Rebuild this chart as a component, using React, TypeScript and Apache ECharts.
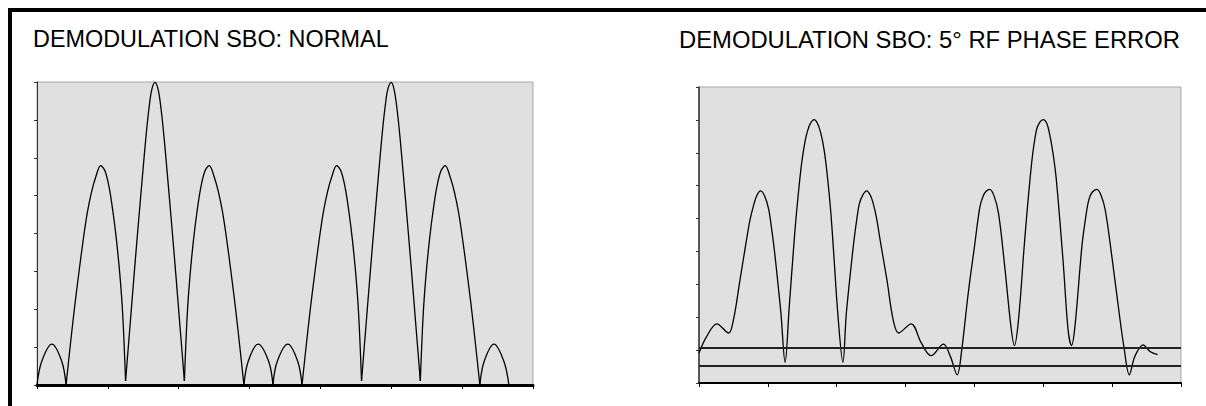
import React, { useEffect, useRef } from "react";
import * as echarts from "echarts";

const titleNormal = "DEMODULATION SBO: NORMAL";
const titlePhase = "DEMODULATION SBO: 5° RF PHASE ERROR";

// Left chart: normal demodulation, one array per lobe (x in tick units, y in tick units)
const normalLobeA = [[0, 0], [0.066, 0.62], [0.21, 1.08], [0.35, 0.62], [0.41, 0]];
const normalLobe1 = [[0.41, 0], [0.47, 1.05], [0.53, 2.05], [0.59, 2.95], [0.65, 3.8], [0.71, 4.55], [0.77, 5.1], [0.83, 5.5], [0.9, 5.79], [0.96, 5.65], [1.02, 5.2], [1.07, 4.6], [1.12, 3.85], [1.17, 2.9], [1.21, 1.85], [1.25, 0.11]];
const normalLobe2 = [[1.25, 0.11], [1.31, 1.5], [1.37, 2.9], [1.43, 4.25], [1.49, 5.55], [1.54, 6.6], [1.58, 7.3], [1.62, 7.8], [1.665, 7.99], [1.71, 7.8], [1.75, 7.3], [1.79, 6.6], [1.84, 5.55], [1.9, 4.25], [1.96, 2.9], [2.02, 1.5], [2.08, 0.11]];
const normalLobe3 = [[2.08, 0.11], [2.12, 1.85], [2.16, 2.9], [2.21, 3.85], [2.26, 4.6], [2.31, 5.2], [2.37, 5.65], [2.43, 5.79], [2.5, 5.5], [2.56, 5.1], [2.62, 4.55], [2.68, 3.8], [2.74, 2.95], [2.8, 2.05], [2.86, 1.05], [2.92, 0]];
const normalLobeB = [[2.92, 0], [2.98, 0.62], [3.12, 1.08], [3.27, 0.62], [3.33, 0]];
const normalLobeC = [[3.33, 0], [3.39, 0.62], [3.54, 1.08], [3.68, 0.62], [3.74, 0]];
const normalLobe4 = [[3.74, 0], [3.8, 1.05], [3.86, 2.05], [3.92, 2.95], [3.98, 3.8], [4.04, 4.55], [4.1, 5.1], [4.16, 5.5], [4.23, 5.79], [4.29, 5.65], [4.35, 5.2], [4.4, 4.6], [4.45, 3.85], [4.5, 2.9], [4.54, 1.85], [4.58, 0.11]];
const normalLobe5 = [[4.58, 0.11], [4.64, 1.5], [4.7, 2.9], [4.76, 4.25], [4.82, 5.55], [4.87, 6.6], [4.91, 7.3], [4.95, 7.8], [5.0, 7.99], [5.04, 7.8], [5.08, 7.3], [5.12, 6.6], [5.17, 5.55], [5.23, 4.25], [5.29, 2.9], [5.35, 1.5], [5.41, 0.11]];
const normalLobe6 = [[5.41, 0.11], [5.45, 1.85], [5.49, 2.9], [5.54, 3.85], [5.59, 4.6], [5.64, 5.2], [5.7, 5.65], [5.76, 5.79], [5.83, 5.5], [5.89, 5.1], [5.95, 4.55], [6.01, 3.8], [6.07, 2.95], [6.13, 2.05], [6.19, 1.05], [6.25, 0]];
const normalLobeD = [[6.25, 0], [6.31, 0.62], [6.45, 1.08], [6.59, 0.62], [6.66, 0]];
const normalLobes = [normalLobeA, normalLobe1, normalLobe2, normalLobe3, normalLobeB, normalLobeC, normalLobe4, normalLobe5, normalLobe6, normalLobeD];

// Right chart: 5° RF phase error
const phaseErrorLeft = [
  [0, 0.91], [0.11, 1.41], [0.26, 1.8], [0.43, 1.52], [0.5, 1.92], [0.595, 3.13], [0.69, 4.35], [0.74, 4.95],
  [0.79, 5.38], [0.84, 5.7], [0.895, 5.84], [0.95, 5.7], [1.01, 5.3], [1.06, 4.6], [1.1, 3.94], [1.15, 2.95],
  [1.19, 2.12], [1.25, 0.63], [1.31, 2.3], [1.39, 4.55], [1.44, 5.7], [1.49, 6.67], [1.54, 7.35], [1.58, 7.69],
  [1.62, 7.9], [1.67, 8.01], [1.72, 7.9], [1.77, 7.59], [1.82, 7.05], [1.86, 6.37], [1.91, 5.3], [1.95, 4.14],
  [2.02, 2.0], [2.09, 0.63], [2.14, 2.12], [2.24, 4.14], [2.29, 4.95], [2.33, 5.46], [2.38, 5.72], [2.435, 5.84],
  [2.49, 5.7], [2.53, 5.46], [2.58, 5.0], [2.63, 4.35], [2.73, 3.13], [2.82, 1.92], [2.9, 1.52],
];
const phaseErrorMiddle = [
  [3.08, 1.8], [3.23, 1.21], [3.37, 0.83], [3.55, 1.18], [3.65, 0.81],
];
const phaseErrorRight = [
  [3.75, 0.25], [3.81, 0.91], [3.91, 2.73], [4.0, 4.14], [4.08, 5.36], [4.13, 5.7], [4.17, 5.83], [4.22, 5.89],
  [4.28, 5.72], [4.35, 5.16], [4.44, 3.54], [4.53, 1.72], [4.58, 1.14], [4.64, 1.92], [4.73, 4.35], [4.83, 6.67],
  [4.9, 7.69], [4.95, 7.93], [5.0, 8.01], [5.05, 7.9], [5.09, 7.59], [5.14, 7.0], [5.19, 6.17], [5.29, 3.64],
  [5.36, 1.62], [5.41, 1.14], [5.46, 1.72], [5.56, 4.14], [5.61, 4.95], [5.66, 5.56], [5.71, 5.8], [5.78, 5.89],
  [5.84, 5.7], [5.9, 5.26], [5.99, 3.94], [6.09, 2.32], [6.17, 1.11], [6.25, 0.25], [6.33, 0.81], [6.45, 1.16],
  [6.55, 0.96], [6.66, 0.86],
];
const phaseErrorCurve = [...phaseErrorLeft, ...phaseErrorMiddle, ...phaseErrorRight];
const phaseRefLines = [1.06, 0.53];

const xRange = [0, 7];
const yRangeNormal = [0, 8];
const yRangePhase = [0, 9];

const FONT = '"Liberation Sans", Arial, Helvetica, sans-serif';

function buildOption() {
  const titleStyle = { fontSize: 23.4, fontWeight: "normal" as const, fontFamily: FONT, color: "#000" };
  const curveStyle = { color: "#000", width: 1.3 };
  const leftSeries = normalLobes.map((lobe) => ({
    type: "line" as const,
    xAxisIndex: 0,
    yAxisIndex: 0,
    data: lobe,
    smooth: 0.35,
    symbol: "none",
    lineStyle: curveStyle,
    silent: true,
  }));
  const makeX = (gridIndex: number, lw: number) => ({
    type: "value" as const,
    gridIndex,
    min: xRange[0],
    max: xRange[1],
    interval: 1,
    axisLine: { show: true, onZero: false, lineStyle: { color: "#000", width: lw } },
    axisTick: { show: true, length: 4, lineStyle: { color: "#000", width: 1 } },
    axisLabel: { show: false },
    splitLine: { show: false },
  });
  const makeY = (gridIndex: number, range: number[], lw: number) => ({
    type: "value" as const,
    gridIndex,
    min: range[0],
    max: range[1],
    interval: 1,
    axisLine: { show: true, onZero: false, lineStyle: { color: "#333", width: lw } },
    axisTick: { show: true, length: 3, lineStyle: { color: "#333", width: 1 } },
    axisLabel: { show: false },
    splitLine: { show: false },
  });
  return {
    animation: false,
    backgroundColor: "#fff",
    title: [
      { text: titleNormal, left: 33, top: 27, padding: 0, textStyle: titleStyle },
      { text: titlePhase, left: 679, top: 27, padding: 0, textStyle: { ...titleStyle, fontSize: 23.8 } },
    ],
    graphic: [
      { type: "line", shape: { x1: 8, y1: 10, x2: 1206, y2: 10 }, style: { stroke: "#000", lineWidth: 4 } },
      { type: "line", shape: { x1: 10, y1: 8, x2: 10, y2: 406 }, style: { stroke: "#000", lineWidth: 4 } },
    ],
    grid: [
      { left: 37, top: 82, width: 496, height: 303, show: true, backgroundColor: "#e0e0e0", borderColor: "#a8a8a8", borderWidth: 1 },
      { left: 699, top: 87, width: 482, height: 296, show: true, backgroundColor: "#e0e0e0", borderColor: "#a8a8a8", borderWidth: 1 },
    ],
    xAxis: [makeX(0, 3), makeX(1, 2)],
    yAxis: [makeY(0, yRangeNormal, 1), makeY(1, yRangePhase, 1.5)],
    series: [
      ...leftSeries,
      {
        type: "line",
        xAxisIndex: 1,
        yAxisIndex: 1,
        data: phaseErrorCurve,
        smooth: 0.35,
        symbol: "none",
        lineStyle: curveStyle,
        silent: true,
        markLine: {
          silent: true,
          symbol: "none",
          label: { show: false },
          lineStyle: { color: "#222", width: 2, type: "solid" },
          data: phaseRefLines.map((v) => ({ yAxis: v })),
        },
      },
    ],
  };
}

export default function App() {
  const ref = useRef<HTMLDivElement>(null);
  useEffect(() => {
    document.body.style.margin = "0";
    const chart = echarts.init(ref.current!, null, { renderer: "svg" });
    chart.setOption(buildOption() as any);
    return () => chart.dispose();
  }, []);
  return <div ref={ref} style={{ width: 1206, height: 406 }} />;
}
